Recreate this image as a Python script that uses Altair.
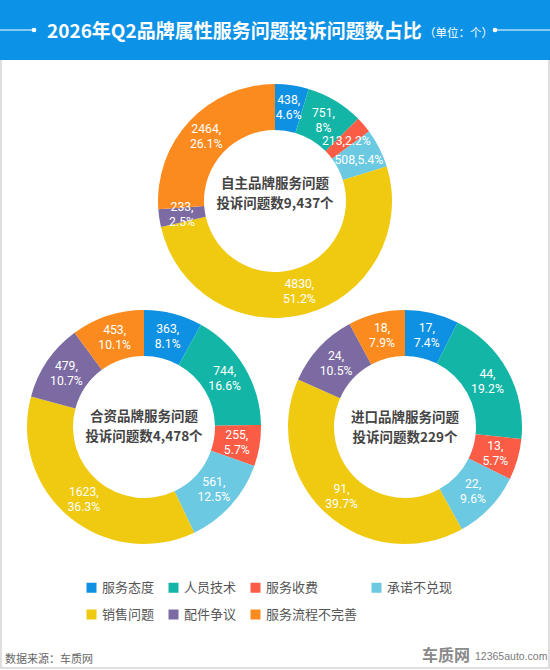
import altair as alt
import pandas as pd

# ---------------- data ----------------
categories = ["服务态度", "人员技术", "服务收费", "承诺不兑现", "销售问题", "配件争议", "服务流程不完善"]
colors = ["#0e90e3", "#13b6a6", "#fb5c45", "#6bc9e2", "#f0c911", "#7c6ba2", "#fb8b1f"]

brands = ["自主品牌", "合资品牌", "进口品牌"]
totals_text = ["9,437", "4,478", "229"]

values_zizhu = [438, 751, 213, 508, 4830, 233, 2464]
pct_zizhu = ["4.6%", "8%", "2.2%", "5.4%", "51.2%", "2.5%", "26.1%"]

values_hezi = [363, 744, 255, 561, 1623, 479, 453]
pct_hezi = ["8.1%", "16.6%", "5.7%", "12.5%", "36.3%", "10.7%", "10.1%"]

values_jinkou = [17, 44, 13, 22, 91, 24, 18]
pct_jinkou = ["7.4%", "19.2%", "5.7%", "9.6%", "39.7%", "10.5%", "7.9%"]

# labels shown on a single line in the reference
one_line = {"自主品牌": ["服务收费", "承诺不兑现"]}

title_main = "2026年Q2品牌属性服务问题投诉问题数占比"
title_unit = "（单位：个）"
source_text = "数据来源：车质网"

FONT = "Noto Sans CJK SC"
LABEL_FONT = "Roboto"
W, H = 550, 670
LH = 15  # label line spacing

one = pd.DataFrame({"a": [0]})

color_enc = alt.Color(
    "cat:N",
    scale=alt.Scale(domain=categories, range=colors),
    legend=alt.Legend(
        title=None,
        orient="none",
        direction="horizontal",
        legendX=85,
        legendY=581,
        columns=4,
        symbolType="square",
        symbolSize=100,
        symbolStrokeWidth=0,
        symbolOpacity=1,
        labelFont=FONT,
        labelFontSize=13,
        labelColor="#555555",
        labelOffset=4,
        columnPadding=12,
        rowPadding=13,
        padding=0,
    ),
)


def donut(brand, total, vals, pcts, cx, cy, text_y):
    rows = []
    for i, (c, v, p) in enumerate(zip(categories, vals, pcts)):
        single = c in one_line.get(brand, [])
        rows.append({
            "cat": c, "value": v, "idx": i,
            "top": f"{v}," + (p if single else ""),
            "bottom": "" if single else p,
            "lines": 1 if single else 2,
        })
    df = pd.DataFrame(rows)
    tot = sum(vals)
    theta_scale = alt.Scale(domain=[0, tot])
    arc = alt.Chart(df).mark_arc(innerRadius=71, outerRadius=117).encode(
        theta=alt.Theta("value:Q", stack=True, scale=theta_scale),
        order=alt.Order("idx:Q"),
        color=color_enc,
        x=alt.value(cx),
        y=alt.value(cy),
    )
    tbase = alt.Chart(df).transform_window(
        cum="sum(value)", sort=[alt.SortField("idx")], frame=[None, 0]
    ).transform_calculate(mid="datum.cum - datum.value / 2")
    pos = dict(
        theta=alt.Theta("mid:Q", stack=None, scale=theta_scale),
        x=alt.value(cx),
        y=alt.value(cy),
    )
    tstyle = dict(radius=94, color="white", fontSize=12.2, font=LABEL_FONT,
                  baseline="middle", align="center")
    two = tbase.transform_filter("datum.lines == 2")
    txt_a = two.mark_text(dy=-LH / 2, **tstyle).encode(text="top:N", **pos)
    txt_b = two.mark_text(dy=LH / 2, **tstyle).encode(text="bottom:N", **pos)
    txt_c = tbase.transform_filter("datum.lines == 1").mark_text(dy=1.5, **tstyle).encode(
        text="top:N", **pos)
    cdf = pd.DataFrame({"t": [f"{brand}服务问题", f"投诉问题数{total}个"], "k": [0, 1]})
    cstyle = dict(fontSize=13.5, fontWeight="bold", color="#444444",
                  font=FONT, baseline="middle", align="center")
    c1 = alt.Chart(cdf).transform_filter("datum.k == 0").mark_text(**cstyle).encode(
        text="t:N", x=alt.value(cx), y=alt.value(text_y))
    c2 = alt.Chart(cdf).transform_filter("datum.k == 1").mark_text(**cstyle).encode(
        text="t:N", x=alt.value(cx), y=alt.value(text_y + 19.5))
    return alt.layer(arc, txt_a, txt_b, txt_c, c1, c2)


# ---------------- frame / header ----------------
frame = alt.Chart(one).mark_rect(fill="white", stroke="#d4d4d4", strokeWidth=1.5).encode(
    x=alt.value(1), x2=alt.value(W - 1), y=alt.value(58), y2=alt.value(H - 2)
)
header = alt.Chart(one).mark_rect(color="#0c92e6").encode(
    x=alt.value(0), x2=alt.value(W), y=alt.value(0), y2=alt.value(60)
)
line_l = alt.Chart(one).mark_rule(color="white", strokeWidth=1).encode(
    x=alt.value(0), x2=alt.value(34), y=alt.value(30)
)
line_r = alt.Chart(one).mark_rule(color="white", strokeWidth=1).encode(
    x=alt.value(495), x2=alt.value(W), y=alt.value(30)
)
dot_l = alt.Chart(one).mark_circle(color="white", opacity=1, size=22).encode(
    x=alt.value(34), y=alt.value(30)
)
dot_r = alt.Chart(one).mark_circle(color="white", opacity=1, size=22).encode(
    x=alt.value(495), y=alt.value(30)
)
title_t = alt.Chart(one).mark_text(
    text=title_main, font=FONT, fontSize=19, fontWeight="bold", color="white",
    align="left", baseline="middle",
).encode(x=alt.value(47), y=alt.value(32))
unit_t = alt.Chart(one).mark_text(
    text=title_unit, font=FONT, fontSize=11.5, color="white",
    align="left", baseline="middle",
).encode(x=alt.value(424), y=alt.value(34))

# ---------------- footer ----------------
source_t = alt.Chart(one).mark_text(
    text=source_text, font=FONT, fontSize=11, color="#666666",
    align="left", baseline="middle",
).encode(x=alt.value(5), y=alt.value(660))
logo_t = alt.Chart(one).mark_text(
    text="车质网", font=FONT, fontSize=16, fontWeight="bold", color="#8a8a8a",
    align="left", baseline="middle",
).encode(x=alt.value(422), y=alt.value(656))
logo_url = alt.Chart(one).mark_text(
    text="12365auto.com", font="Liberation Sans", fontSize=10.5, color="#7a7a7a",
    align="left", baseline="middle",
).encode(x=alt.value(475), y=alt.value(657))

d1 = donut(brands[0], totals_text[0], values_zizhu, pct_zizhu, 275, 201, 184)
d2 = donut(brands[1], totals_text[1], values_hezi, pct_hezi, 144, 427, 417)
d3 = donut(brands[2], totals_text[2], values_jinkou, pct_jinkou, 405, 427, 418)

chart = alt.layer(
    frame, header, line_l, line_r, dot_l, dot_r, title_t, unit_t,
    d1, d2, d3,
    source_t, logo_t, logo_url,
).resolve_scale(theta="independent").properties(
    width=W, height=H, autosize="none", padding=0, background="white"
).configure_view(stroke=None)

chart.save("out.html", embed_options={"renderer": "svg", "actions": False})
